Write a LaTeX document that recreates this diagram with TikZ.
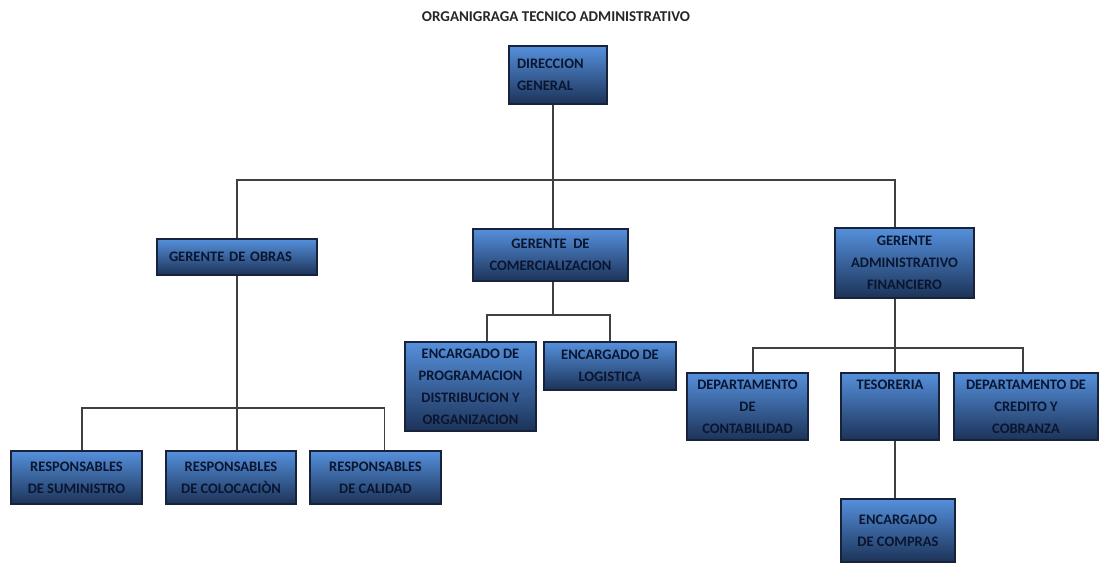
\documentclass[tikz,border=0pt]{standalone}
\usepackage{fontspec}
\setmainfont{Carlito}[BoldFont={Carlito Bold}]
\usepackage{xcolor}
\usepackage{tikz}
\definecolor{boxtop}{HTML}{5590DC}
\definecolor{boxmid}{HTML}{3C6FB6}
\definecolor{boxbot}{HTML}{1C3358}
\definecolor{boxtxt}{HTML}{0A1530}
\definecolor{boxedge}{HTML}{18223A}

\begin{document}
\begin{tikzpicture}[x=1pt, y=-1pt,
  box/.style={draw=boxedge, line width=1.3pt, top color=boxtop, middle color=boxmid, bottom color=boxbot,
    text=boxtxt, font=\bfseries\fontsize{14.5}{22}\selectfont, align=center, inner sep=0pt},
  link/.style={draw=black!75, line width=1.3pt}]
  \useasboundingbox (0,0) rectangle (1099,562);

  % Titolo
  \node[font=\bfseries\fontsize{15}{17}\selectfont, text=black!85] (tit) at (556,17)
    {ORGANIGRAGA TECNICO ADMINISTRATIVO};

  % Livello superiore
  \node[box, minimum width=98, minimum height=58, text width=82, align=left] (dg) at (558,75)
    {DIRECCION\\GENERAL};
  \node[box, minimum width=160, minimum height=36, text width=136, align=left] (obras) at (237,257)
    {GERENTE DE OBRAS};
  \node[box, minimum width=155, minimum height=52] (comerc) at (550.5,255)
    {GERENTE~ DE\\COMERCIALIZACION};
  \node[box, minimum width=139, minimum height=70] (admin) at (904.5,263)
    {GERENTE\\ADMINISTRATIVO\\FINANCIERO};

  % Livello inferiore
  \node[box, minimum width=131, minimum height=53] (sum) at (76.5,477.5) {RESPONSABLES\\DE SUMINISTRO};
  \node[box, minimum width=130, minimum height=53] (col) at (231,477.5) {RESPONSABLES\\DE COLOCACIÒN};
  \node[box, minimum width=131, minimum height=53] (cal) at (375.5,477.5) {RESPONSABLES\\DE CALIDAD};
  \node[box, minimum width=131, minimum height=89] (prog) at (470.5,386.5)
    {ENCARGADO DE\\PROGRAMACION\\DISTRIBUCION Y\\ORGANIZACION};
  \node[box, minimum width=132, minimum height=48] (logi) at (610,366) {ENCARGADO DE\\LOGISTICA};
  \node[box, minimum width=121, minimum height=67] (cont) at (747.5,406.5) {DEPARTAMENTO\\DE\\CONTABILIDAD};
  \node[box, minimum width=98, minimum height=67] (tes) at (890,406.5) {TESORERIA\\~\\~};
  \node[box, minimum width=144, minimum height=67] (cred) at (1026,406.5)
    {DEPARTAMENTO DE\\CREDITO Y\\COBRANZA};
  \node[box, minimum width=114, minimum height=63] (comp) at (898,530.5) {ENCARGADO\\DE COMPRAS};

  % Collegamenti
  \coordinate (spine) at (553,180);
  \coordinate (acol) at (895,0);
  \draw[link] (dg.south -| spine) -- (spine);
  \draw[link] (obras.north) |- (spine) -| (acol |- admin.north);
  \draw[link] (spine) -- (spine |- comerc.north);

  \coordinate (ob) at (237,408);
  \draw[link] (obras.south) -- (ob);
  \draw[link] ([xshift=5.5]sum.north) |- (ob) -| ([xshift=9]cal.north);
  \draw[link] (ob) -- ([xshift=6]col.north);

  \coordinate (cb) at (553,315);
  \draw[link] (comerc.south -| spine) -- (cb);
  \draw[link] ([xshift=16.5]prog.north) |- (cb) -| (logi.north);

  \coordinate (ab) at (895,348);
  \draw[link] (admin.south -| acol) -- (ab);
  \draw[link] ([xshift=5.5]cont.north) |- (ab) -| ([xshift=-3]cred.north);
  \draw[link] (ab) -- (ab |- tes.north);
  \draw[link] (tes.south -| acol) -- (acol |- comp.north);
\end{tikzpicture}
\end{document}
